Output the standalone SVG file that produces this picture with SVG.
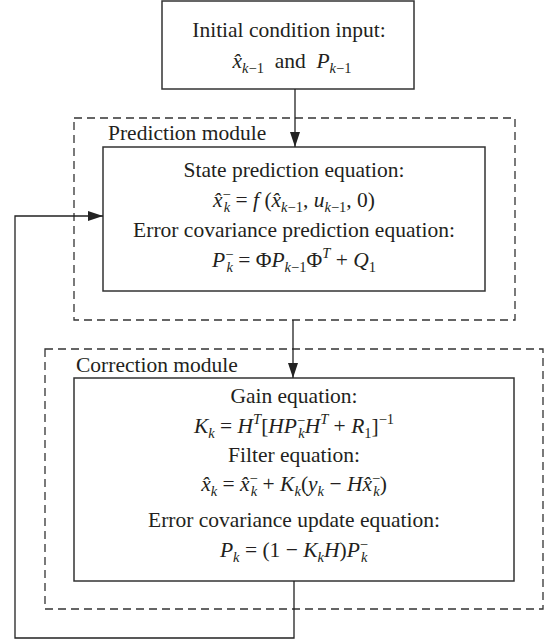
<svg xmlns="http://www.w3.org/2000/svg" width="547" height="642" viewBox="0 0 547 642">
<style>
.box{fill:#fff;stroke:#333;stroke-width:1.5}
.dash{fill:none;stroke:#333;stroke-width:1.3;stroke-dasharray:8 5}
.wire{fill:none;stroke:#222;stroke-width:1.3}
text{font-family:'Liberation Serif','DejaVu Serif',serif;font-size:21.5px;fill:#231f20}
.t{text-anchor:middle}
.i{font-style:italic}
.s{font-size:14.5px}
</style>
<defs>
<marker id="arr" markerUnits="userSpaceOnUse" markerWidth="15" markerHeight="10" refX="15" refY="5" orient="auto">
<path d="M0,0 L15,5 L0,10 z" fill="#222"/>
</marker>
</defs>
<rect width="547" height="642" fill="#fff"/>

<g id="prediction-module">
<rect class="dash" x="74" y="118" width="441" height="202"/>
<text x="108" y="140">Prediction module</text>
</g>
<g id="correction-module">
<rect class="dash" x="45" y="349" width="498" height="260"/>
<text x="76" y="372">Correction module</text>
</g>

<g id="initial">
<rect class="box" x="162" y="1" width="252" height="88"/>
<text class="t" x="289" y="37">Initial condition input:</text>
<text class="t" x="292" y="68"><tspan class="i">x̂</tspan><tspan class="s" dy="5"><tspan class="i">k</tspan>−1</tspan><tspan dy="-5">&#160; and &#160;</tspan><tspan class="i">P</tspan><tspan class="s" dy="5"><tspan class="i">k</tspan>−1</tspan></text>
</g>

<g id="prediction">
<rect class="box" x="103" y="147" width="382" height="144"/>
<text class="t" x="294" y="177">State prediction equation:</text>
<text class="t" x="294" y="207"><tspan class="i">x̂</tspan><tspan class="s" dy="-8">−</tspan><tspan class="s i" dx="-7" dy="13">k</tspan><tspan dy="-5"> = </tspan><tspan class="i">f</tspan><tspan> (</tspan><tspan class="i">x̂</tspan><tspan class="s" dy="5"><tspan class="i">k</tspan>−1</tspan><tspan dy="-5">, </tspan><tspan class="i">u</tspan><tspan class="s" dy="5"><tspan class="i">k</tspan>−1</tspan><tspan dy="-5">, 0)</tspan></text>
<text class="t" x="294" y="237">Error covariance prediction equation:</text>
<text class="t" x="294" y="267"><tspan class="i">P</tspan><tspan class="s" dy="-8">−</tspan><tspan class="s i" dx="-7" dy="13">k</tspan><tspan dy="-5"> = Φ</tspan><tspan class="i">P</tspan><tspan class="s" dy="5"><tspan class="i">k</tspan>−1</tspan><tspan dy="-5">Φ</tspan><tspan class="s i" dy="-9">T</tspan><tspan dy="9"> + </tspan><tspan class="i">Q</tspan><tspan class="s" dy="5">1</tspan></text>
</g>

<g id="correction">
<rect class="box" x="74" y="378" width="440" height="203"/>
<text class="t" x="294" y="403">Gain equation:</text>
<text class="t" x="294" y="433"><tspan class="i">K</tspan><tspan class="s i" dy="5">k</tspan><tspan dy="-5"> = </tspan><tspan class="i">H</tspan><tspan class="s i" dy="-9">T</tspan><tspan dy="9">[</tspan><tspan class="i">HP</tspan><tspan class="s" dy="-8">−</tspan><tspan class="s i" dx="-7" dy="13">k</tspan><tspan class="i" dy="-5">H</tspan><tspan class="s i" dy="-9">T</tspan><tspan dy="9"> + </tspan><tspan class="i">R</tspan><tspan class="s" dy="5">1</tspan><tspan dy="-5">]</tspan><tspan class="s" dy="-9">−1</tspan></text>
<text class="t" x="294" y="462">Filter equation:</text>
<text class="t" x="294" y="491"><tspan class="i">x̂</tspan><tspan class="s i" dy="5">k</tspan><tspan dy="-5"> = </tspan><tspan class="i">x̂</tspan><tspan class="s" dy="-8">−</tspan><tspan class="s i" dx="-7" dy="13">k</tspan><tspan dy="-5"> + </tspan><tspan class="i">K</tspan><tspan class="s i" dy="5">k</tspan><tspan dy="-5">(</tspan><tspan class="i">y</tspan><tspan class="s i" dy="5">k</tspan><tspan dy="-5"> − </tspan><tspan class="i">Hx̂</tspan><tspan class="s" dy="-8">−</tspan><tspan class="s i" dx="-7" dy="13">k</tspan><tspan dy="-5">)</tspan></text>
<text class="t" x="294" y="527">Error covariance update equation:</text>
<text class="t" x="294" y="557"><tspan class="i">P</tspan><tspan class="s i" dy="5">k</tspan><tspan dy="-5"> = (1 − </tspan><tspan class="i">K</tspan><tspan class="s i" dy="5">k</tspan><tspan class="i" dy="-5">H</tspan><tspan>)</tspan><tspan class="i">P</tspan><tspan class="s" dy="-8">−</tspan><tspan class="s i" dx="-7" dy="13">k</tspan></text>
</g>

<g id="connectors">
<line class="wire" x1="295" y1="89" x2="295" y2="147" marker-end="url(#arr)"/>
<line class="wire" x1="293" y1="320" x2="293" y2="378" marker-end="url(#arr)"/>
<polyline class="wire" points="294,581 294,638 15,638 15,216 103,216" marker-end="url(#arr)"/>
</g>
</svg>
